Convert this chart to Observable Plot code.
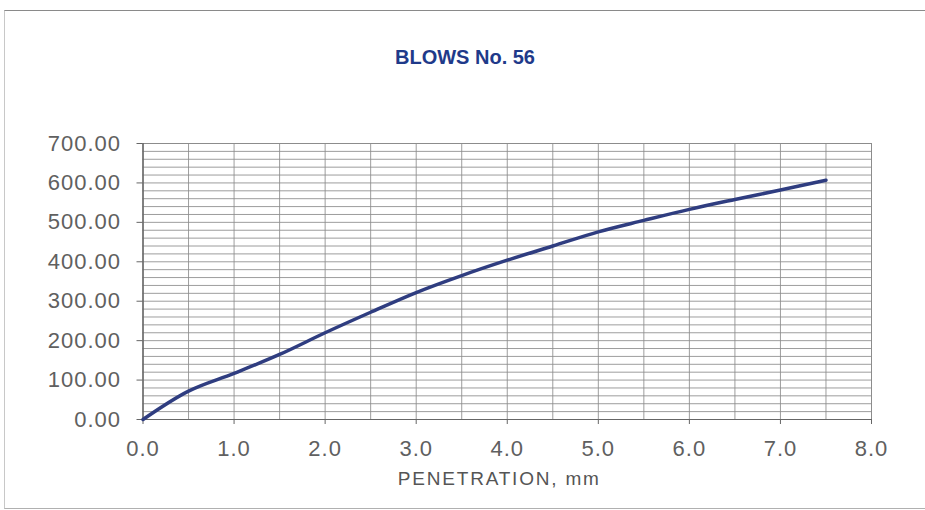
<!DOCTYPE html>
<html>
<head>
<meta charset="utf-8">
<script src="https://cdn.jsdelivr.net/npm/d3@7"></script>
<script src="https://cdn.jsdelivr.net/npm/@observablehq/plot@0.6"></script>
<style>
  html, body { margin: 0; padding: 0; background: #fff; }
  #sheet {
    position: relative; width: 925px; height: 510px; overflow: hidden;
    font-family: "Liberation Sans", Arial, sans-serif;
  }
  #border {
    position: absolute; left: 4px; top: 10px; width: 940px; height: 497px;
    border-top: 1px solid #8a8a8a; border-left: 1px solid #c8c8c8; border-bottom: 1px solid #b0b0b0;
  }
  #title {
    position: absolute; left: 0; top: 0; width: 930px; height: 100px;
    text-align: center; line-height: 114px;
    font-size: 20px; font-weight: bold; color: #1f3a8a;
  }
  #chart { position: absolute; left: 0; top: 100px; }
  #chart g[aria-label="y-axis tick label"] text,
  #chart g[aria-label="x-axis tick label"] text { letter-spacing: 1px; }
  #chart g[aria-label="text"] text { letter-spacing: 1.8px; }
</style>
</head>
<body>
<div id="sheet">
  <div id="border"></div>
  <div id="title">BLOWS No. 56</div>
  <div id="chart"></div>
</div>
<script>
// Load–penetration readings for the 56-blow specimen
const penetration = [0.0, 0.5, 1.0, 1.5, 2.0, 2.5, 3.0, 3.5, 4.0, 4.5, 5.0, 5.5, 6.0, 6.5, 7.0, 7.5];
const load        = [0, 72, 117, 165, 220, 272, 322, 365, 404, 440, 476, 505, 533, 558, 582, 607];

// Axis ticks
const xTicks = [0, 1, 2, 3, 4, 5, 6, 7, 8];
const yTicks = [0, 100, 200, 300, 400, 500, 600, 700];
// Minor grid lines
const xGrid = d3.range(0, 8.001, 0.5);
const yGrid = d3.range(0, 700.001, 20);

const axisLabel = ["PENETRATION, mm"];

const data = penetration.map((p, i) => ({p, v: load[i]}));

const chart = Plot.plot({
  width: 925,
  height: 410,
  marginLeft: 142.5,
  marginRight: 54,
  marginTop: 43,
  marginBottom: 91,
  style: {fontFamily: "'Liberation Sans', Arial, sans-serif", background: "transparent"},
  x: {domain: [0, 8]},
  y: {domain: [0, 700]},
  marks: [
    Plot.gridX(xGrid, {stroke: "#8c8c8c", strokeOpacity: 0.85, strokeWidth: 1}),
    Plot.gridY(yGrid, {stroke: "#8c8c8c", strokeOpacity: 0.85, strokeWidth: 1}),
    Plot.frame({stroke: "#8c8c8c"}),
    Plot.ruleX([0], {stroke: "#555"}),
    Plot.ruleY([0], {stroke: "#666"}),
    Plot.axisY(yTicks, {
      tickSize: 6, tickPadding: 16, stroke: "#666",
      tickFormat: d => d.toFixed(2), fontSize: 22, fill: "#606060", label: null
    }),
    Plot.axisX(xTicks, {
      tickSize: 5, tickPadding: 16, stroke: "#666",
      tickFormat: d => d.toFixed(1), fontSize: 22, fill: "#606060", label: null
    }),
    Plot.text(axisLabel, {
      frameAnchor: "bottom", dx: -8, dy: 65,
      fontSize: 19, fill: "#555"
    }),
    Plot.line(data, {
      x: "p", y: "v", curve: "catmull-rom",
      stroke: "#2f3d80", strokeWidth: 3.5, strokeLinecap: "round"
    })
  ]
});
document.getElementById("chart").appendChild(chart);
</script>
</body>
</html>
